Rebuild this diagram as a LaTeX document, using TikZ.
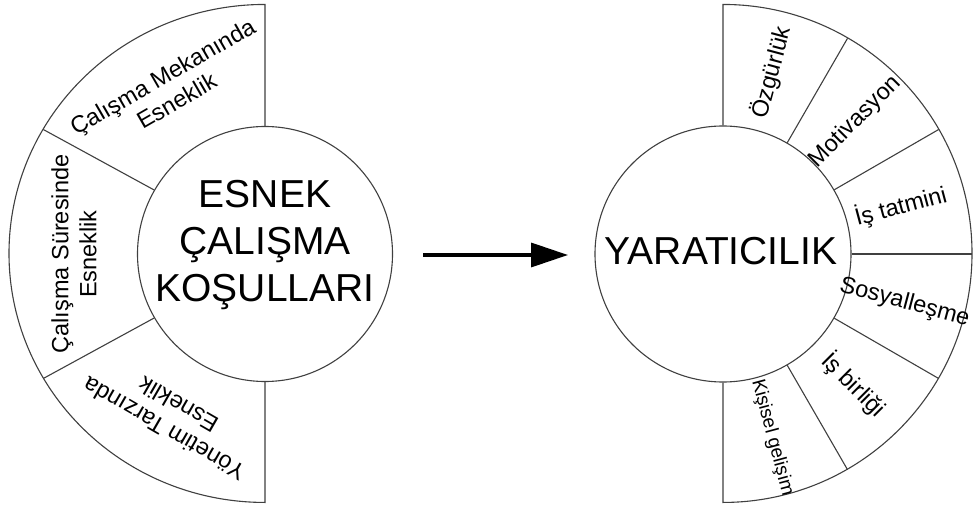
\documentclass[tikz,border=0pt]{standalone}
\usepackage{fontspec}
\setmainfont{Liberation Sans}
\usetikzlibrary{arrows.meta}
\begin{document}
\begin{tikzpicture}[x=1pt,y=1pt,
  ring/.style={draw=black!75, line width=1.1pt},
  hub/.style={circle, draw=black!75, line width=1.1pt, inner sep=0pt},
  seclbl/.style={font=\fontsize{23.5}{28}\selectfont, align=center, inner sep=0pt},
  smalllbl/.style={font=\fontsize{19}{23}\selectfont, inner sep=0pt},
  biglbl/.style={font=\fontsize{39}{47}\selectfont, anchor=base, inner sep=0pt}]
\fill[white] (0,0) rectangle (973,506);
\useasboundingbox (0,0) rectangle (973,506);

% ---------- left half ----------
\coordinate (LC) at (265,252);
\node[hub, minimum size=255pt] (L) at (LC) {};
\draw[ring] (L.north) -- ++(0,121.5) arc[start angle=90, end angle=270, x radius=256, y radius=249] -- (L.south);
\draw[ring] (L.150) -- ([shift={(150:256 and 249)}]LC);
\draw[ring] (L.210) -- ([shift={(210:256 and 249)}]LC);

\node[biglbl] (l1) at (265,298) {ESNEK};
\node[biglbl] (l2) at (265,251) {ÇALIŞMA};
\node[biglbl] (l3) at (265,204) {KOŞULLARI};

\node[seclbl, rotate=30]  (s1) at ([shift={(120:191)}]LC) {Çalışma Mekanında\\Esneklik};
\node[seclbl, rotate=90]  (s2) at ([shift={(180:191)}]LC) {Çalışma Süresinde\\Esneklik};
\node[seclbl, rotate=150] (s3) at ([shift={(240:188)}]LC) {Yönetim Tarzında\\Esneklik};

% ---------- arrow ----------
\coordinate (A1) at (423,251);
\coordinate (A2) at (568,251);
\draw[line width=3.5pt, -{Triangle[length=37pt, width=24pt]}] (A1) -- (A2);

% ---------- right half ----------
\coordinate (RC) at (723,252);
\node[hub, minimum size=256pt] (R) at (RC) {};
\draw[ring] (R.north) -- ++(0,121) arc[start angle=90, end angle=-90, radius=249] -- (R.south);
\foreach \a in {60,30,0,-30,-60}
  \draw[ring] (R.\a) -- ([shift={(\a:249)}]RC);

\node[biglbl] (y1) at (721,241) {YARATICILIK};

\node[seclbl, rotate=75]  (r1) at ([shift={(75:188)}]RC) {Özgürlük};
\node[seclbl, rotate=45]  (r2) at ([shift={(45:187)}]RC) {Motivasyon};
\node[seclbl, rotate=15]  (r3) at ([shift={(15:184)}]RC) {İş tatmini};
\node[seclbl, rotate=-15] (r4) at ([shift={(-15:188)}]RC) {Sosyalleşme};
\node[seclbl, rotate=-45] (r5) at ([shift={(-45:185)}]RC) {İş birliği};
\node[smalllbl, rotate=-75] (r6) at ([shift={(-75:190)}]RC) {Kişisel gelişim};
\end{tikzpicture}
\end{document}
